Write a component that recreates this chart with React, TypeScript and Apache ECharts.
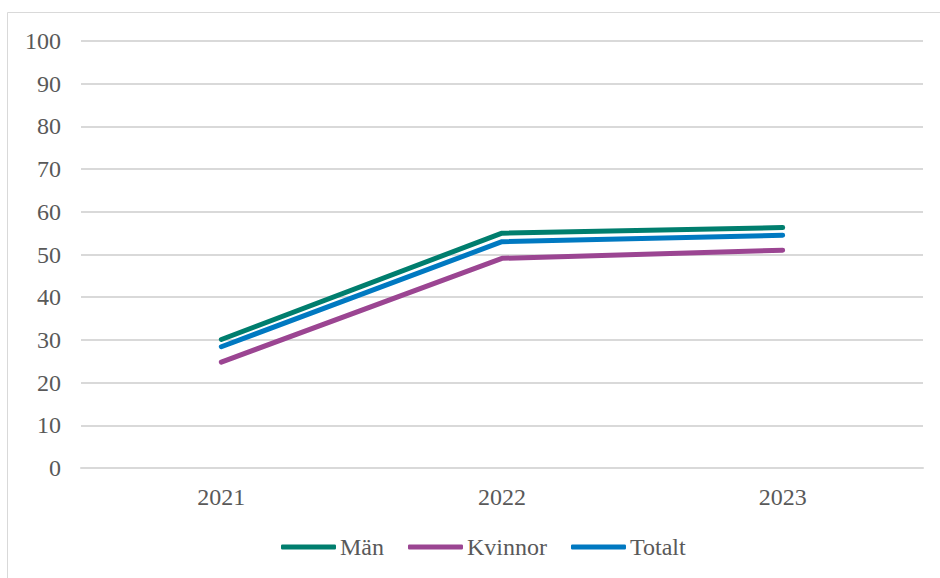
import React, { useEffect, useRef } from "react";
import * as echarts from "echarts";

const years = ["2021", "2022", "2023"];
const man = [30.1, 55.0, 56.3];
const kvinnor = [24.8, 49.1, 51.0];
const totalt = [28.4, 53.0, 54.5];

const FONT = "Liberation Serif";

export default function App() {
  const ref = useRef<HTMLDivElement>(null);
  useEffect(() => {
    const chart = echarts.init(ref.current!, null, { renderer: "svg" });
    const mk = (name: string, data: number[], color: string) => ({
      name,
      type: "line",
      data,
      symbol: "none",
      lineStyle: { width: 5, color, cap: "round", join: "round" },
      itemStyle: { color },
    });
    const lab = { color: "#595959", fontSize: 24, fontFamily: FONT, fontWeight: "normal" };
    chart.setOption({
      animation: false,
      backgroundColor: "#ffffff",
      graphic: [
        {
          type: "rect",
          shape: { x: 7.5, y: 12.5, width: 1000, height: 1000 },
          style: { fill: "none", stroke: "#D9D9D9", lineWidth: 1 },
          silent: true,
        },
      ],
      grid: { left: 81, right: 17, top: 41, bottom: 110, containLabel: false },
      xAxis: {
        type: "category",
        data: years,
        boundaryGap: true,
        axisLine: { show: true, lineStyle: { color: "#D9D9D9", width: 2 } },
        axisTick: { show: false },
        axisLabel: { ...lab, margin: 17 },
      },
      yAxis: {
        type: "value",
        min: 0,
        max: 100,
        interval: 10,
        axisLine: { show: false },
        axisTick: { show: false },
        splitLine: { lineStyle: { color: "#D9D9D9", width: 2 } },
        axisLabel: { ...lab, margin: 20 },
      },
      legend: {
        bottom: 14,
        left: 276,
        padding: [5, 5, 5, 5],
        icon: "roundRect",
        itemWidth: 55,
        itemHeight: 5,
        itemGap: 24,
        textStyle: { ...lab, padding: [0, 0, 0, -1] },
        data: ["Män", "Kvinnor", "Totalt"],
      },
      series: [
        mk("Män", man, "#007E6E"),
        mk("Kvinnor", kvinnor, "#9B4592"),
        mk("Totalt", totalt, "#0079C1"),
      ],
    });
    return () => chart.dispose();
  }, []);
  return (
    <div
      ref={ref}
      style={{ position: "fixed", left: 0, top: 0, width: 940, height: 578 }}
    />
  );
}
